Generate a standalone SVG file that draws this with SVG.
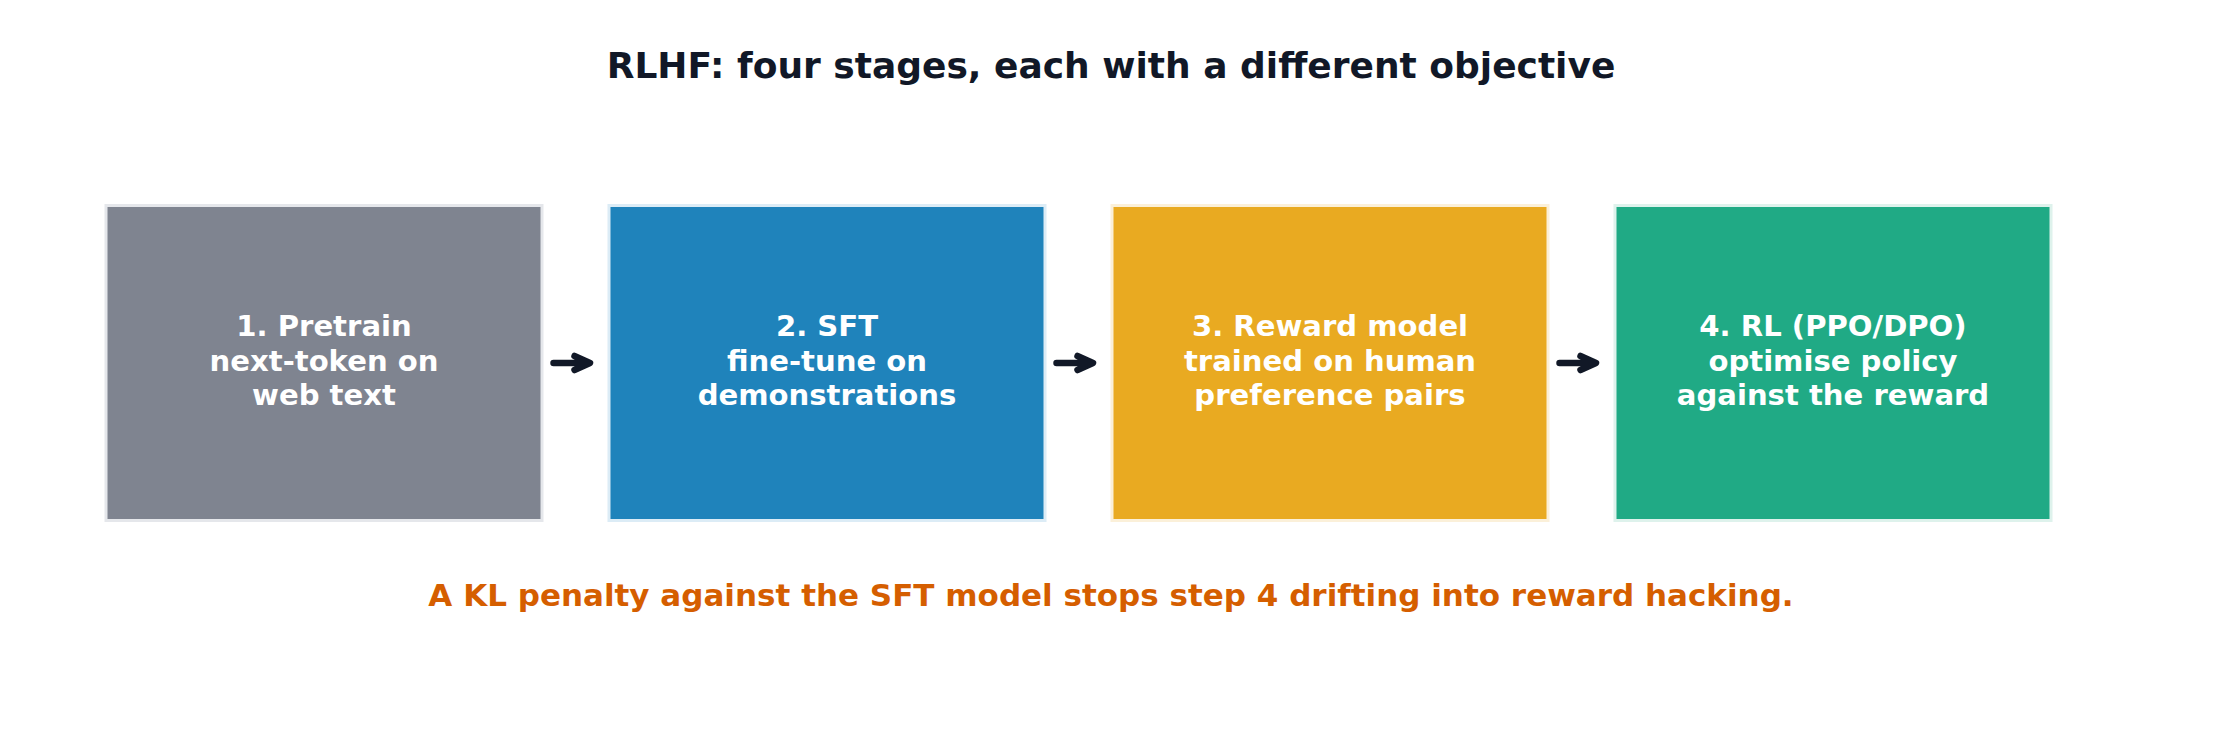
<svg xmlns="http://www.w3.org/2000/svg" width="2222" height="741" viewBox="0 0 2222 741">
<style>
.box{stroke-width:3}
.lbl{font-family:"DejaVu Sans",sans-serif;font-weight:bold;font-size:29.1px;fill:#ffffff;text-anchor:middle}
.title{font-family:"DejaVu Sans",sans-serif;font-weight:bold;font-size:36px;fill:#111827;text-anchor:middle}
.foot{font-family:"DejaVu Sans",sans-serif;font-weight:bold;font-size:31px;fill:#d55e00;text-anchor:middle}
.arr{stroke:#111827;stroke-width:6.5;stroke-linecap:round;stroke-linejoin:round;fill:none}
</style>
<rect width="2222" height="741" fill="#ffffff"/>
<text class="title" x="1111" y="77.5">RLHF: four stages, each with a different objective</text>
<g id="stage1">
<rect class="box" x="106" y="205.5" width="436" height="315" fill="#7f8490" stroke="#e5e7eb"/>
<text class="lbl" x="324" y="336">1. Pretrain</text>
<text class="lbl" x="324" y="370.5">next-token on</text>
<text class="lbl" x="324" y="405">web text</text>
</g>
<g id="stage2">
<rect class="box" x="609" y="205.5" width="436" height="315" fill="#1f83bb" stroke="#dcecf6"/>
<text class="lbl" x="827" y="336">2. SFT</text>
<text class="lbl" x="827" y="370.5">fine-tune on</text>
<text class="lbl" x="827" y="405">demonstrations</text>
</g>
<g id="stage3">
<rect class="box" x="1112" y="205.5" width="436" height="315" fill="#e9aa21" stroke="#fbf0d9"/>
<text class="lbl" x="1330" y="336">3. Reward model</text>
<text class="lbl" x="1330" y="370.5">trained on human</text>
<text class="lbl" x="1330" y="405">preference pairs</text>
</g>
<g id="stage4">
<rect class="box" x="1615" y="205.5" width="436" height="315" fill="#20aa85" stroke="#def2ec"/>
<text class="lbl" x="1833" y="336">4. RL (PPO/DPO)</text>
<text class="lbl" x="1833" y="370.5">optimise policy</text>
<text class="lbl" x="1833" y="405">against the reward</text>
</g>
<g id="connectors">
<path class="arr" d="M553.5 363H589.5M574.5 356L590 363L574.5 370"/>
<path class="arr" d="M1056.5 363H1092.5M1077.5 356L1093 363L1077.5 370"/>
<path class="arr" d="M1559.5 363H1595.5M1580.5 356L1596 363L1580.5 370"/>
</g>
<text class="foot" x="1111" y="606">A KL penalty against the SFT model stops step 4 drifting into reward hacking.</text>
</svg>
